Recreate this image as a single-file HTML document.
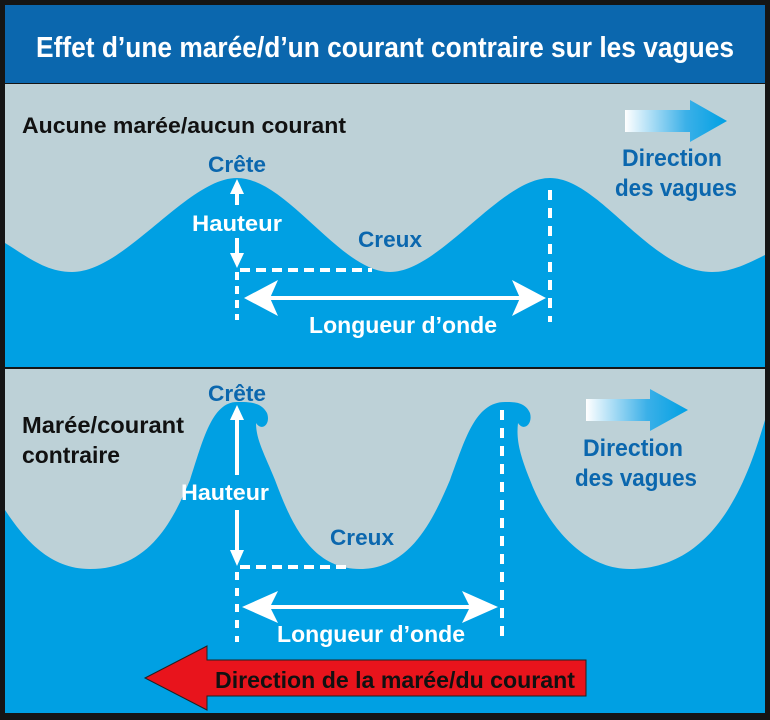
<!DOCTYPE html>
<html><head><meta charset="utf-8"><style>html,body{margin:0;padding:0;background:#111}svg{display:block}text{font-family:"Liberation Sans",sans-serif;font-weight:bold}</style></head><body>
<svg width="770" height="720" viewBox="0 0 770 720" xmlns="http://www.w3.org/2000/svg">
<defs>
<linearGradient id="g" x1="0" x2="1" y1="0" y2="0"><stop offset="0" stop-color="#fff"/><stop offset="0.6" stop-color="#3bb0e8"/><stop offset="1" stop-color="#00a0e3"/></linearGradient>
</defs>
<rect x="0" y="0" width="770" height="720" fill="#151515"/>
<rect x="5" y="5" width="760" height="78" fill="#0b67ae"/>
<text x="385" y="57" fill="#fff" font-size="29" text-anchor="middle" textLength="698" lengthAdjust="spacingAndGlyphs">Effet d’une marée/d’un courant contraire sur les vagues</text>
<!-- panel 1 -->
<rect x="5" y="84" width="760" height="283" fill="#00a0e3"/>
<path d="M5,84 H765 V255 C745,265 730,272 712,272 C650,272 600,178 550,178 C500,178 440,272 390,272 C340,272 287,178 237,178 C187,178 125,272 72,272 C45,272 25,255 5,243 Z" fill="#bdd1d7"/>
<text x="22" y="133" fill="#111" font-size="22" textLength="324" lengthAdjust="spacingAndGlyphs">Aucune marée/aucun courant</text>
<text x="237" y="172" fill="#0b67ae" font-size="22" text-anchor="middle" textLength="58" lengthAdjust="spacingAndGlyphs">Crête</text>
<text x="672" y="166" fill="#0b67ae" font-size="24" text-anchor="middle" textLength="100" lengthAdjust="spacingAndGlyphs">Direction</text>
<text x="676" y="196" fill="#0b67ae" font-size="24" text-anchor="middle" textLength="122" lengthAdjust="spacingAndGlyphs">des vagues</text>
<text x="390" y="247" fill="#0b67ae" font-size="22" text-anchor="middle" textLength="64" lengthAdjust="spacingAndGlyphs">Creux</text>
<path d="M625,110 H690 V100 L727,121 L690,142 V132 H625 Z" fill="url(#g)"/>
<g stroke="#fff" stroke-width="4" fill="none">
<line x1="237" y1="192" x2="237" y2="205"/><line x1="237" y1="238" x2="237" y2="255"/>
<path d="M237,272 V320" stroke-dasharray="8,6"/>
<path d="M240,270 H372" stroke-dasharray="10,6"/>
<path d="M550,190 V322" stroke-dasharray="10,8"/>
<line x1="270" y1="298" x2="520" y2="298"/>
</g>
<g fill="#fff">
<path d="M237,179 L230,194 H244 Z"/><path d="M237,268 L230,253 H244 Z"/>
<path d="M244,298 L278,280 L270,298 L278,316 Z"/><path d="M546,298 L512,280 L520,298 L512,316 Z"/>
</g>
<text x="237" y="231" fill="#fff" font-size="22" text-anchor="middle" textLength="90" lengthAdjust="spacingAndGlyphs">Hauteur</text>
<text x="403" y="333" fill="#fff" font-size="23" text-anchor="middle" textLength="188" lengthAdjust="spacingAndGlyphs">Longueur d’onde</text>
<!-- panel 2 -->
<rect x="5" y="369" width="760" height="344" fill="#00a0e3"/>
<path d="M5,369 H765 V420 C750,470 720,569 630,569 C580,569 545,520 530,480 C520,455 516,440 518,423 C524,432 533,424 530,413 C525,402 515,402 505,402 C475,402 465,440 450,480 C433,520 410,569 360,569 C310,569 290,520 275,480 C265,455 256,440 256,423 C262,432 271,424 267,413 C261,402 250,402 237,402 C212,402 203,440 190,480 C173,520 150,569 90,569 C50,569 25,540 5,510 Z" fill="#bdd1d7"/>
<text x="22" y="433" fill="#111" font-size="23" textLength="162" lengthAdjust="spacingAndGlyphs">Marée/courant</text>
<text x="22" y="463" fill="#111" font-size="23" textLength="98" lengthAdjust="spacingAndGlyphs">contraire</text>
<text x="237" y="401" fill="#0b67ae" font-size="22" text-anchor="middle" textLength="58" lengthAdjust="spacingAndGlyphs">Crête</text>
<text x="633" y="456" fill="#0b67ae" font-size="24" text-anchor="middle" textLength="100" lengthAdjust="spacingAndGlyphs">Direction</text>
<text x="636" y="486" fill="#0b67ae" font-size="24" text-anchor="middle" textLength="122" lengthAdjust="spacingAndGlyphs">des vagues</text>
<text x="362" y="545" fill="#0b67ae" font-size="22" text-anchor="middle" textLength="64" lengthAdjust="spacingAndGlyphs">Creux</text>
<path d="M586,399 H650 V389 L688,410 L650,431 V421 H586 Z" fill="url(#g)"/>
<g stroke="#fff" stroke-width="4" fill="none">
<line x1="237" y1="418" x2="237" y2="475"/><line x1="237" y1="510" x2="237" y2="552"/>
<path d="M237,572 V642" stroke-dasharray="8,8"/>
<path d="M240,567 H350" stroke-dasharray="10,6"/>
<path d="M502,410 V642" stroke-dasharray="10,8"/>
<line x1="270" y1="607" x2="470" y2="607"/>
</g>
<g fill="#fff">
<path d="M237,405 L230,420 H244 Z"/><path d="M237,566 L230,550 H244 Z"/>
<path d="M242,607 L278,591 L270,607 L278,623 Z"/><path d="M498,607 L462,591 L470,607 L462,623 Z"/>
</g>
<text x="225" y="500" fill="#fff" font-size="22" text-anchor="middle" textLength="88" lengthAdjust="spacingAndGlyphs">Hauteur</text>
<text x="371" y="642" fill="#fff" font-size="23" text-anchor="middle" textLength="188" lengthAdjust="spacingAndGlyphs">Longueur d’onde</text>
<path d="M145,678 L207,646 V660 H586 V696 H207 V710 Z" fill="#e8141c" stroke="#222" stroke-width="1"/>
<text x="395" y="688" fill="#111" font-size="23" text-anchor="middle" textLength="360" lengthAdjust="spacingAndGlyphs">Direction de la marée/du courant</text>
</svg>
</body></html>
